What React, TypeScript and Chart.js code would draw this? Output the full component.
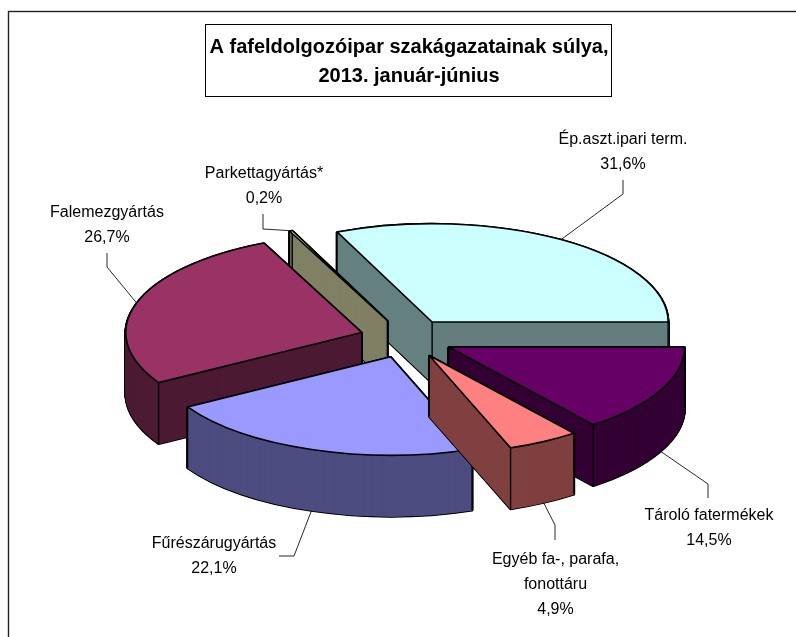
import React, { useEffect, useRef } from "react";
import { Chart, registerables } from "chart.js";

Chart.register(...registerables);

const categories = [
  "Ép.aszt.ipari term.",
  "Tároló fatermékek",
  "Egyéb fa-, parafa,\nfonottáru",
  "Fűrészárugyártás",
  "Falemezgyártás",
  "Parkettagyártás*",
];
const shares = [31.6, 14.5, 4.9, 22.1, 26.7, 0.2];
const topColors = ["#CCFFFF", "#660066", "#FF8080", "#9999FF", "#993366", "#FFFFCC"];
const wallColors = ["#668080", "#330033", "#804040", "#4D4D80", "#4D1A33", "#808066"];
const titleLines = ["A fafeldolgozóipar szakágazatainak súlya,", "2013. január-június"];

// Painter's order: back slices first
const drawOrder = [0, 5, 4, 1, 3, 2];

// Layout of the pseudo-3D projection
const CX = 406.5;
const CY = 338.4;
const TILT = 0.417;
const DEPTH = 61;
const EXPLODE = 46.9;
const RADIUS = 236;

// Label layout: centre x, first line middle y, and leader points (from label to elbow)
const labelX = [623, 709, 555.5, 214, 107, 264];
const labelY = [140, 516, 560, 544, 213, 174];
const leaderStart = [[623, 180], [708, 498], [555, 540], [279, 556], [107, 253], [263, 214]];
const leaderElbow = [[623, 194], [708, 484], [555, 525], [294, 556], [107, 267], [263, 229]];
const leaderOnWall = [false, true, true, true, false, false];

const FONT = "'Liberation Sans', Arial, sans-serif";

function fmt(v: number) {
  return String(v).replace(".", ",") + "%";
}

const pie3d = {
  id: "pie3d",
  beforeDraw(chart: any) {
    const { ctx, width, height } = chart;
    ctx.save();
    ctx.fillStyle = "#fff";
    ctx.fillRect(0, 0, width, height);
    ctx.strokeStyle = "#222";
    ctx.lineWidth = 1.4;
    ctx.strokeRect(8.5, 11.5, width + 20, height + 20);
    ctx.lineWidth = 1;
    ctx.strokeStyle = "#000";
    ctx.strokeRect(205.5, 24.5, 406, 72);
    ctx.restore();
  },
  beforeDatasetDraw(chart: any) {
    const ctx = chart.ctx;
    const meta = chart.getDatasetMeta(0);
    const nativeStroke = ctx.stroke;
    ctx.stroke = function () {
      ctx.save();
      ctx.setTransform(1, 0, 0, 1, 0, 0);
      nativeStroke.call(ctx);
      ctx.restore();
    };
    const makeOpts = (fill: string, line: string, stroke: number) => ({
      backgroundColor: fill,
      borderColor: line,
      borderWidth: stroke,
      borderAlign: "center",
      borderJoinStyle: "round",
      borderRadius: 0,
      offset: 0,
      spacing: 0,
      angle: undefined,
      circular: true,
      borderDash: [],
      borderDashOffset: 0,
    });
    const drawAt = (arc: any, mid: number, d: number, opts: any) => {
      ctx.save();
      ctx.translate(CX, CY + d);
      ctx.scale(1, TILT);
      ctx.translate(Math.cos(mid) * EXPLODE, Math.sin(mid) * EXPLODE);
      ctx.translate(-arc.x, -arc.y);
      const prev = arc.options;
      arc.options = opts;
      arc.draw(ctx);
      arc.options = prev;
      ctx.restore();
    };
    const project = (mid: number, angle: number, r: number) => ({
      x: CX + Math.cos(mid) * EXPLODE + Math.cos(angle) * r,
      y: CY + (Math.sin(mid) * EXPLODE + Math.sin(angle) * r) * TILT,
    });
    for (const i of drawOrder) {
      const arc = meta.data[i];
      const mid = (arc.startAngle + arc.endAngle) / 2;
      const r = arc.outerRadius;
      for (let d = DEPTH; d >= 0.5; d -= 0.5) drawAt(arc, mid, d, makeOpts(wallColors[i], "#000", 2.6));
      for (let d = DEPTH; d >= 0.5; d -= 0.5) drawAt(arc, mid, d, makeOpts(wallColors[i], wallColors[i], 0.8));
      ctx.save();
      ctx.strokeStyle = "#000";
      ctx.lineWidth = 1.4;
      const corners = [
        project(mid, mid, 0),
        project(mid, arc.startAngle, r),
        project(mid, arc.endAngle, r),
      ];
      for (const p of corners) {
        ctx.beginPath();
        ctx.moveTo(p.x, p.y);
        ctx.lineTo(p.x, p.y + DEPTH);
        nativeStroke.call(ctx);
      }
      ctx.restore();
      drawAt(arc, mid, 0, makeOpts(topColors[i], "#000", 1.6));
    }
    delete ctx.stroke;
    return false;
  },
  afterDraw(chart: any) {
    const { ctx } = chart;
    const meta = chart.getDatasetMeta(0);
    ctx.save();
    ctx.strokeStyle = "#111";
    ctx.lineWidth = 0.9;
    categories.forEach((_, i) => {
      const arc = meta.data[i];
      const mid = (arc.startAngle + arc.endAngle) / 2;
      const ex = CX + Math.cos(mid) * (EXPLODE + arc.outerRadius);
      const ey =
        CY + Math.sin(mid) * (EXPLODE + arc.outerRadius) * TILT + (leaderOnWall[i] ? DEPTH : 0);
      ctx.beginPath();
      ctx.moveTo(leaderStart[i][0], leaderStart[i][1]);
      ctx.lineTo(leaderElbow[i][0], leaderElbow[i][1]);
      ctx.lineTo(ex, ey);
      ctx.stroke();
    });
    ctx.fillStyle = "#000";
    ctx.font = `16px ${FONT}`;
    ctx.textAlign = "center";
    ctx.textBaseline = "middle";
    categories.forEach((name, i) => {
      const lines = [...name.split("\n"), fmt(shares[i])];
      lines.forEach((line, j) => {
        ctx.fillText(line, labelX[i], labelY[i] + j * 25);
      });
    });
    ctx.restore();
  },
};

export default function App() {
  const ref = useRef<HTMLCanvasElement | null>(null);
  useEffect(() => {
    if (!ref.current) return;
    const chart = new Chart(ref.current, {
      type: "pie",
      data: {
        labels: categories,
        datasets: [{ data: shares, backgroundColor: topColors, borderColor: "#000", borderWidth: 1 }],
      },
      options: {
        responsive: false,
        animation: false,
        rotation: 90 - (shares[0] / 100) * 360,
        radius: RADIUS,
        layout: { padding: { left: 22, right: 0, top: 0, bottom: 0 } },
        events: [],
        plugins: {
          legend: { display: false },
          tooltip: { enabled: false },
          title: {
            display: true,
            text: titleLines,
            color: "#000",
            font: { family: FONT, size: 20, weight: "bold", lineHeight: 1.45 },
            padding: { top: 33, bottom: 10 },
          },
        },
      } as any,
      plugins: [pie3d as any],
    });
    return () => chart.destroy();
  }, []);
  return (
    <canvas
      ref={ref}
      width={796}
      height={637}
      style={{ position: "fixed", left: 0, top: 0, width: 796, height: 637, display: "block" }}
    />
  );
}
